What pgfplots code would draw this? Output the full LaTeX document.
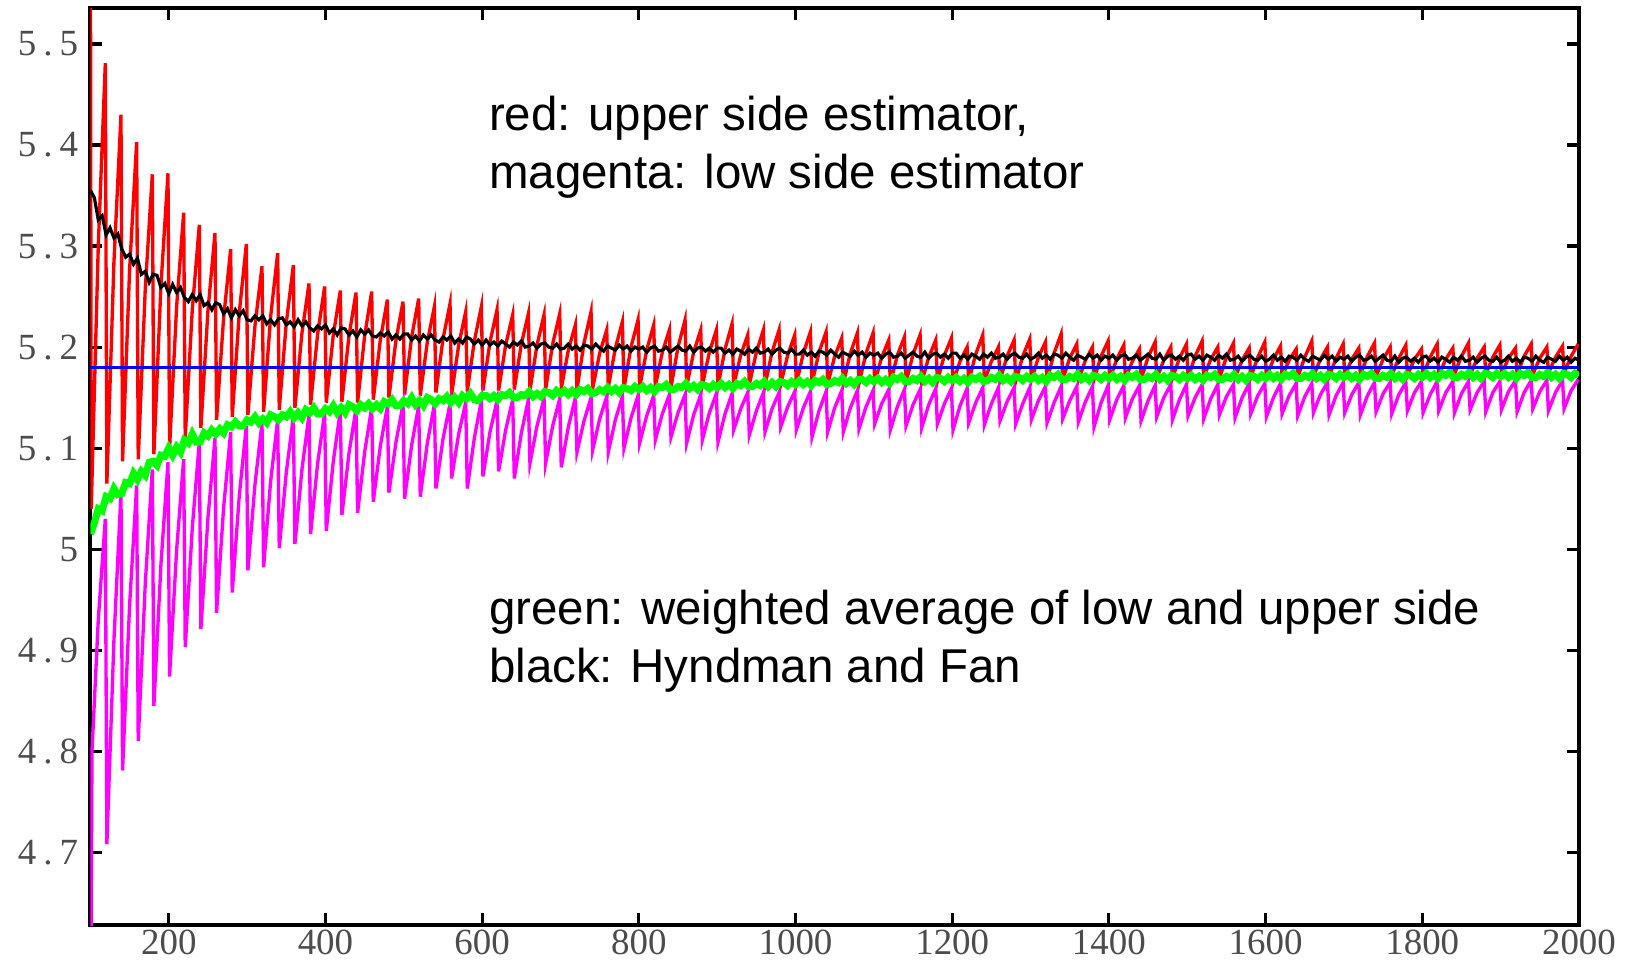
\documentclass[border=0pt]{standalone}
\usepackage{fontspec}
\setmainfont{Liberation Serif}
\newfontfamily\annfont{Liberation Sans}
\usepackage{pgfplots}
\pgfplotsset{compat=1.18}
\definecolor{lime}{RGB}{0,255,0}
\definecolor{mag}{RGB}{255,0,255}
\begin{document}
\begin{tikzpicture}
\begin{axis}[
  scale only axis, width=14.88cm, height=9.17cm,
  xmin=100, xmax=2000, ymin=4.6277, ymax=5.5356,
  xtick={200,400,600,800,1000,1200,1400,1600,1800,2000},
  xticklabels={200,400,600,800,1000,1200,1400,1600,1800,2000},
  ytick={4.7,4.8,4.9,5.0,5.1,5.2,5.3,5.4,5.5},
  yticklabels={4\kern2pt.\kern2pt7,4\kern2pt.\kern2pt8,4\kern2pt.\kern2pt9,5,5\kern2pt.\kern2pt1,5\kern2pt.\kern2pt2,5\kern2pt.\kern2pt3,5\kern2pt.\kern2pt4,5\kern2pt.\kern2pt5},
  tick align=inside, major tick length=0.12cm,
  tick style={black, line width=0.9pt},
  axis line style={line width=1.1pt},
  ticklabel style={font=\fontsize{10.5}{12}\selectfont, text=black!70},
  xticklabel style={inner sep=1pt},
]
% upper side estimator
\addplot[red, line width=0.95pt] coordinates {
(100,5.62) (101,5.04) (110,5.30) (119,5.481)
(121,5.065) (130,5.284) (139,5.430) (141,5.087) (150,5.277) (159,5.403)
(161,5.089) (170,5.258) (179,5.371) (181,5.094) (190,5.261) (199,5.372)
(201,5.100) (210,5.240) (219,5.333) (221,5.111) (230,5.237) (239,5.321)
(241,5.120) (250,5.236) (259,5.313) (261,5.128) (270,5.229) (279,5.297)
(281,5.131) (290,5.234) (299,5.302) (301,5.133) (310,5.221) (319,5.280)
(321,5.136) (330,5.230) (339,5.293) (341,5.138) (350,5.224) (359,5.281)
(361,5.140) (370,5.214) (379,5.263) (381,5.143) (390,5.213) (399,5.260)
(401,5.145) (410,5.212) (419,5.256) (421,5.146) (430,5.211) (439,5.254)
(441,5.145) (450,5.211) (459,5.255) (461,5.148) (470,5.207) (479,5.247)
(481,5.150) (490,5.207) (499,5.245) (501,5.153) (510,5.210) (519,5.248)
(521,5.152) (530,5.205) (539,5.240) (541,5.155) (550,5.208) (559,5.243)
(561,5.153) (570,5.202) (579,5.235) (581,5.156) (590,5.206) (599,5.240)
(601,5.157) (610,5.205) (619,5.237) (621,5.157) (630,5.202) (639,5.232)
(641,5.158) (650,5.203) (659,5.233) (661,5.157) (670,5.202) (679,5.232)
(681,5.158) (690,5.203) (699,5.233) (701,5.159) (710,5.197) (719,5.222)
(721,5.158) (730,5.204) (739,5.235) (741,5.159) (750,5.194) (759,5.217)
(761,5.160) (770,5.199) (779,5.225) (781,5.159) (790,5.200) (799,5.227)
(801,5.160) (810,5.197) (819,5.222) (821,5.161) (830,5.195) (839,5.217)
(841,5.160) (850,5.200) (859,5.227) (861,5.161) (870,5.195) (879,5.217)
(881,5.162) (890,5.195) (899,5.217) (901,5.161) (910,5.198) (919,5.223)
(921,5.162) (930,5.192) (939,5.212) (941,5.163) (950,5.195) (959,5.217)
(961,5.162) (970,5.195) (979,5.217) (981,5.163) (990,5.192) (999,5.212)
(1001,5.163) (1010,5.194) (1019,5.215) (1021,5.164) (1030,5.195) (1039,5.215)
(1041,5.163) (1050,5.191) (1059,5.209) (1061,5.164) (1070,5.194) (1079,5.214)
(1081,5.164) (1090,5.194) (1099,5.214) (1101,5.165) (1110,5.190) (1119,5.207)
(1121,5.164) (1130,5.192) (1139,5.210) (1141,5.165) (1150,5.193) (1159,5.212)
(1161,5.165) (1170,5.190) (1179,5.207) (1181,5.166) (1190,5.192) (1199,5.209)
(1201,5.165) (1210,5.186) (1219,5.200) (1221,5.166) (1230,5.193) (1239,5.212)
(1241,5.166) (1250,5.186) (1259,5.200) (1261,5.167) (1270,5.191) (1279,5.207)
(1281,5.166) (1290,5.191) (1299,5.208) (1301,5.167) (1310,5.190) (1319,5.205)
(1321,5.167) (1330,5.194) (1339,5.213) (1341,5.168) (1350,5.189) (1359,5.203)
(1361,5.167) (1370,5.187) (1379,5.200) (1381,5.168) (1390,5.191) (1399,5.206)
(1401,5.168) (1410,5.188) (1419,5.202) (1421,5.169) (1430,5.186) (1439,5.198)
(1441,5.168) (1450,5.190) (1459,5.205) (1461,5.169) (1470,5.187) (1479,5.200)
(1481,5.169) (1490,5.189) (1499,5.203) (1501,5.169) (1510,5.191) (1519,5.206)
(1521,5.170) (1530,5.188) (1539,5.200) (1541,5.169) (1550,5.190) (1559,5.204)
(1561,5.170) (1570,5.187) (1579,5.199) (1581,5.170) (1590,5.190) (1599,5.205)
(1601,5.170) (1610,5.188) (1619,5.201) (1621,5.171) (1630,5.187) (1639,5.198)
(1641,5.170) (1650,5.190) (1659,5.206) (1661,5.171) (1670,5.188) (1679,5.200)
(1681,5.171) (1690,5.189) (1699,5.203) (1701,5.171) (1710,5.188) (1719,5.199)
(1721,5.172) (1730,5.191) (1739,5.204) (1741,5.171) (1750,5.188) (1759,5.200)
(1761,5.172) (1770,5.189) (1779,5.202) (1781,5.172) (1790,5.188) (1799,5.198)
(1801,5.172) (1810,5.190) (1819,5.203) (1821,5.172) (1830,5.188) (1839,5.199)
(1841,5.173) (1850,5.191) (1859,5.204) (1861,5.172) (1870,5.189) (1879,5.200)
(1881,5.173) (1890,5.190) (1899,5.202) (1901,5.173) (1910,5.189) (1919,5.199)
(1921,5.173) (1930,5.191) (1939,5.203) (1941,5.173) (1950,5.189) (1959,5.200)
(1961,5.174) (1970,5.190) (1979,5.201) (1981,5.174) (1990,5.191) (1999,5.203)
};
% low side estimator
\addplot[mag, line width=0.95pt] coordinates {
(100,4.50) (102,4.80) (110,4.93) (119,5.030)
(121,4.708) (130,4.910) (139,5.056) (141,4.781) (150,4.945) (159,5.063)
(161,4.810) (170,4.966) (179,5.079) (181,4.845) (190,4.985) (199,5.086)
(201,4.874) (210,4.999) (219,5.089) (221,4.903) (230,5.021) (239,5.106)
(241,4.921) (250,5.031) (259,5.110) (261,4.937) (270,5.041) (279,5.116)
(281,4.957) (290,5.053) (299,5.122) (301,4.979) (310,5.064) (319,5.125)
(321,4.982) (330,5.067) (339,5.128) (341,5.001) (350,5.076) (359,5.131)
(361,5.005) (370,5.079) (379,5.133) (381,5.015) (390,5.085) (399,5.135)
(401,5.018) (410,5.087) (419,5.137) (421,5.034) (430,5.095) (439,5.139)
(441,5.036) (450,5.096) (459,5.140) (461,5.047) (470,5.102) (479,5.141)
(481,5.056) (490,5.106) (499,5.143) (501,5.050) (510,5.103) (519,5.142)
(521,5.052) (530,5.105) (539,5.143) (541,5.060) (550,5.109) (559,5.144)
(561,5.070) (570,5.114) (579,5.145) (581,5.060) (590,5.110) (599,5.147)
(601,5.072) (610,5.116) (619,5.147) (621,5.077) (630,5.118) (639,5.148)
(641,5.070) (650,5.115) (659,5.148) (661,5.085) (670,5.122) (679,5.149)
(681,5.085) (690,5.122) (699,5.149) (701,5.081) (710,5.121) (719,5.150)
(721,5.096) (730,5.127) (739,5.150) (741,5.098) (750,5.129) (759,5.151)
(761,5.096) (770,5.128) (779,5.151) (781,5.100) (790,5.130) (799,5.152)
(801,5.105) (810,5.132) (819,5.152) (821,5.108) (830,5.134) (839,5.153)
(841,5.111) (850,5.135) (859,5.153) (861,5.105) (870,5.133) (879,5.153)
(881,5.108) (890,5.135) (899,5.154) (901,5.106) (910,5.134) (919,5.154)
(921,5.118) (930,5.139) (939,5.155) (941,5.113) (950,5.137) (959,5.155)
(961,5.116) (970,5.139) (979,5.155) (981,5.121) (990,5.141) (999,5.156)
(1001,5.118) (1010,5.140) (1019,5.156) (1021,5.111) (1030,5.137) (1039,5.156)
(1041,5.116) (1050,5.140) (1059,5.157) (1061,5.116) (1070,5.140) (1079,5.157)
(1081,5.119) (1090,5.141) (1099,5.157) (1101,5.124) (1110,5.144) (1119,5.158)
(1121,5.118) (1130,5.141) (1139,5.158) (1141,5.122) (1150,5.143) (1159,5.158)
(1161,5.120) (1170,5.143) (1179,5.159) (1181,5.124) (1190,5.144) (1199,5.159)
(1201,5.118) (1210,5.142) (1219,5.159) (1221,5.125) (1230,5.145) (1239,5.160)
(1241,5.123) (1250,5.144) (1259,5.160) (1261,5.127) (1270,5.146) (1279,5.160)
(1281,5.124) (1290,5.144) (1299,5.160) (1301,5.128) (1310,5.147) (1319,5.161)
(1321,5.125) (1330,5.145) (1339,5.161) (1341,5.129) (1350,5.147) (1359,5.161)
(1361,5.126) (1370,5.146) (1379,5.161) (1381,5.121) (1390,5.145) (1399,5.162)
(1401,5.128) (1410,5.148) (1419,5.162) (1421,5.130) (1430,5.149) (1439,5.162)
(1441,5.127) (1450,5.147) (1459,5.162) (1461,5.131) (1470,5.150) (1479,5.163)
(1481,5.128) (1490,5.148) (1499,5.163) (1501,5.132) (1510,5.150) (1519,5.163)
(1521,5.129) (1530,5.149) (1539,5.163) (1541,5.133) (1550,5.151) (1559,5.163)
(1561,5.130) (1570,5.150) (1579,5.164) (1581,5.134) (1590,5.152) (1599,5.164)
(1601,5.131) (1610,5.150) (1619,5.164) (1621,5.134) (1630,5.152) (1639,5.164)
(1641,5.132) (1650,5.151) (1659,5.164) (1661,5.135) (1670,5.153) (1679,5.165)
(1681,5.133) (1690,5.152) (1699,5.165) (1701,5.135) (1710,5.153) (1719,5.165)
(1721,5.133) (1730,5.152) (1739,5.165) (1741,5.136) (1750,5.154) (1759,5.165)
(1761,5.134) (1770,5.153) (1779,5.165) (1781,5.137) (1790,5.155) (1799,5.166)
(1801,5.135) (1810,5.153) (1819,5.166) (1821,5.137) (1830,5.155) (1839,5.166)
(1841,5.135) (1850,5.154) (1859,5.166) (1861,5.138) (1870,5.155) (1879,5.166)
(1881,5.136) (1890,5.155) (1899,5.166) (1901,5.138) (1910,5.156) (1919,5.167)
(1921,5.136) (1930,5.155) (1939,5.167) (1941,5.139) (1950,5.156) (1959,5.167)
(1961,5.137) (1970,5.155) (1979,5.167) (1981,5.139) (1990,5.157) (1999,5.168)
};
% weighted average
\addplot[lime, line width=2pt] coordinates {
(100,5.015) (105,5.026) (110,5.040) (115,5.038) (120,5.052) (125,5.050) (130,5.060) (135,5.054) (140,5.055) (145,5.066)
(150,5.065) (155,5.075) (160,5.069) (165,5.077) (170,5.073) (175,5.086) (180,5.087) (185,5.083) (190,5.093) (195,5.092)
(200,5.100) (205,5.093) (210,5.101) (215,5.096) (220,5.108) (225,5.105) (230,5.114) (235,5.106) (240,5.106) (245,5.115)
(250,5.112) (255,5.118) (260,5.114) (265,5.119) (270,5.115) (275,5.123) (280,5.121) (285,5.126) (290,5.122) (295,5.122)
(300,5.128) (305,5.126) (310,5.131) (315,5.125) (320,5.129) (325,5.125) (330,5.133) (335,5.131) (340,5.128) (345,5.133)
(350,5.131) (355,5.136) (360,5.130) (365,5.135) (370,5.130) (375,5.138) (380,5.135) (385,5.140) (390,5.134) (395,5.134)
(400,5.139) (405,5.136) (410,5.142) (415,5.135) (420,5.140) (425,5.135) (430,5.143) (435,5.141) (440,5.137) (445,5.143)
(450,5.140) (455,5.144) (460,5.139) (465,5.143) (470,5.139) (475,5.146) (480,5.144) (485,5.148) (490,5.142) (495,5.142)
(500,5.147) (505,5.144) (510,5.150) (515,5.143) (520,5.147) (525,5.142) (530,5.150) (535,5.148) (540,5.144) (545,5.149)
(550,5.147) (555,5.151) (560,5.145) (565,5.150) (570,5.145) (575,5.152) (580,5.149) (585,5.154) (590,5.148) (595,5.147)
(600,5.152) (605,5.152) (610,5.149) (615,5.152) (620,5.148) (625,5.153) (630,5.152) (635,5.155) (640,5.150) (645,5.150)
(650,5.153) (655,5.152) (660,5.156) (665,5.151) (670,5.154) (675,5.151) (680,5.156) (685,5.155) (690,5.152) (695,5.157)
(700,5.154) (705,5.157) (710,5.153) (715,5.157) (720,5.153) (725,5.158) (730,5.156) (735,5.159) (740,5.154) (745,5.155)
(750,5.158) (755,5.156) (760,5.160) (765,5.156) (770,5.159) (775,5.155) (780,5.160) (785,5.159) (790,5.157) (795,5.161)
(800,5.158) (805,5.161) (810,5.157) (815,5.160) (820,5.156) (825,5.161) (830,5.160) (835,5.163) (840,5.158) (845,5.158)
(850,5.161) (855,5.160) (860,5.164) (865,5.159) (870,5.162) (875,5.158) (880,5.163) (885,5.162) (890,5.159) (895,5.163)
(900,5.160) (905,5.164) (910,5.160) (915,5.163) (920,5.159) (925,5.164) (930,5.162) (935,5.166) (940,5.161) (945,5.161)
(950,5.164) (955,5.162) (960,5.166) (965,5.161) (970,5.165) (975,5.161) (980,5.166) (985,5.165) (990,5.162) (995,5.166)
(1000,5.163) (1005,5.167) (1010,5.163) (1015,5.166) (1020,5.162) (1025,5.167) (1030,5.165) (1035,5.168) (1040,5.163) (1045,5.164)
(1050,5.167) (1055,5.165) (1060,5.169) (1065,5.164) (1070,5.167) (1075,5.163) (1080,5.168) (1085,5.168) (1090,5.165) (1095,5.169)
(1100,5.166) (1105,5.169) (1110,5.165) (1115,5.168) (1120,5.164) (1125,5.170) (1130,5.168) (1135,5.171) (1140,5.166) (1145,5.166)
(1150,5.169) (1155,5.167) (1160,5.171) (1165,5.166) (1170,5.169) (1175,5.165) (1180,5.170) (1185,5.169) (1190,5.166) (1195,5.170)
(1200,5.167) (1205,5.170) (1210,5.166) (1215,5.169) (1220,5.165) (1225,5.170) (1230,5.168) (1235,5.171) (1240,5.166) (1245,5.167)
(1250,5.170) (1255,5.168) (1260,5.172) (1265,5.167) (1270,5.170) (1275,5.166) (1280,5.171) (1285,5.170) (1290,5.167) (1295,5.171)
(1300,5.168) (1305,5.171) (1310,5.167) (1315,5.170) (1320,5.166) (1325,5.172) (1330,5.170) (1335,5.173) (1340,5.168) (1345,5.168)
(1350,5.171) (1355,5.169) (1360,5.173) (1365,5.168) (1370,5.171) (1375,5.167) (1380,5.172) (1385,5.171) (1390,5.168) (1395,5.172)
(1400,5.169) (1405,5.172) (1410,5.168) (1415,5.171) (1420,5.167) (1425,5.172) (1430,5.170) (1435,5.173) (1440,5.168) (1445,5.168)
(1450,5.171) (1455,5.169) (1460,5.173) (1465,5.168) (1470,5.171) (1475,5.167) (1480,5.172) (1485,5.171) (1490,5.168) (1495,5.172)
(1500,5.169) (1505,5.172) (1510,5.168) (1515,5.171) (1520,5.167) (1525,5.172) (1530,5.170) (1535,5.173) (1540,5.168) (1545,5.168)
(1550,5.171) (1555,5.169) (1560,5.173) (1565,5.168) (1570,5.171) (1575,5.167) (1580,5.172) (1585,5.171) (1590,5.168) (1595,5.172)
(1600,5.169) (1605,5.173) (1610,5.169) (1615,5.172) (1620,5.168) (1625,5.173) (1630,5.171) (1635,5.174) (1640,5.169) (1645,5.169)
(1650,5.172) (1655,5.170) (1660,5.174) (1665,5.169) (1670,5.172) (1675,5.168) (1680,5.173) (1685,5.172) (1690,5.169) (1695,5.173)
(1700,5.170) (1705,5.173) (1710,5.169) (1715,5.172) (1720,5.168) (1725,5.173) (1730,5.171) (1735,5.174) (1740,5.169) (1745,5.169)
(1750,5.172) (1755,5.170) (1760,5.174) (1765,5.169) (1770,5.172) (1775,5.168) (1780,5.173) (1785,5.172) (1790,5.169) (1795,5.173)
(1800,5.170) (1805,5.174) (1810,5.170) (1815,5.173) (1820,5.169) (1825,5.174) (1830,5.172) (1835,5.175) (1840,5.170) (1845,5.170)
(1850,5.173) (1855,5.171) (1860,5.175) (1865,5.170) (1870,5.173) (1875,5.169) (1880,5.174) (1885,5.173) (1890,5.170) (1895,5.174)
(1900,5.171) (1905,5.174) (1910,5.170) (1915,5.173) (1920,5.169) (1925,5.174) (1930,5.172) (1935,5.175) (1940,5.170) (1945,5.170)
(1950,5.173) (1955,5.171) (1960,5.175) (1965,5.170) (1970,5.173) (1975,5.169) (1980,5.174) (1985,5.173) (1990,5.170) (1995,5.174)
(2000,5.172)
};
% Hyndman and Fan
\addplot[black, line width=0.9pt] coordinates {
(100,5.355) (105,5.348) (110,5.326) (115,5.330) (120,5.311) (125,5.318) (130,5.308) (135,5.312) (140,5.297) (145,5.289)
(150,5.292) (155,5.282) (160,5.288) (165,5.272) (170,5.275) (175,5.264) (180,5.272) (185,5.271) (190,5.259) (195,5.263)
(200,5.253) (205,5.262) (210,5.254) (215,5.259) (220,5.249) (225,5.245) (230,5.252) (235,5.246) (240,5.252) (245,5.241)
(250,5.244) (255,5.237) (260,5.244) (265,5.242) (270,5.233) (275,5.238) (280,5.229) (285,5.237) (290,5.231) (295,5.236)
(300,5.227) (305,5.226) (310,5.231) (315,5.227) (320,5.231) (325,5.223) (330,5.227) (335,5.222) (340,5.228) (345,5.229)
(350,5.222) (355,5.225) (360,5.220) (365,5.227) (370,5.221) (375,5.225) (380,5.219) (385,5.216) (390,5.221) (395,5.218)
(400,5.222) (405,5.214) (410,5.218) (415,5.212) (420,5.219) (425,5.218) (430,5.212) (435,5.216) (440,5.210) (445,5.217)
(450,5.213) (455,5.217) (460,5.211) (465,5.210) (470,5.214) (475,5.211) (480,5.215) (485,5.208) (490,5.212) (495,5.208)
(500,5.213) (505,5.213) (510,5.207) (515,5.211) (520,5.206) (525,5.212) (530,5.208) (535,5.212) (540,5.207) (545,5.205)
(550,5.210) (555,5.207) (560,5.211) (565,5.204) (570,5.208) (575,5.204) (580,5.210) (585,5.208) (590,5.203) (595,5.207)
(600,5.202) (605,5.207) (610,5.202) (615,5.205) (620,5.201) (625,5.206) (630,5.203) (635,5.200) (640,5.205) (645,5.202)
(650,5.206) (655,5.200) (660,5.201) (665,5.204) (670,5.199) (675,5.203) (680,5.204) (685,5.200) (690,5.199) (695,5.203)
(700,5.198) (705,5.199) (710,5.203) (715,5.198) (720,5.201) (725,5.197) (730,5.202) (735,5.201) (740,5.198) (745,5.203)
(750,5.199) (755,5.196) (760,5.201) (765,5.199) (770,5.197) (775,5.202) (780,5.198) (785,5.201) (790,5.196) (795,5.200)
(800,5.198) (805,5.200) (810,5.195) (815,5.199) (820,5.201) (825,5.196) (830,5.197) (835,5.200) (840,5.195) (845,5.198)
(850,5.201) (855,5.197) (860,5.196) (865,5.201) (870,5.195) (875,5.199) (880,5.200) (885,5.196) (890,5.199) (895,5.195)
(900,5.199) (905,5.199) (910,5.194) (915,5.197) (920,5.193) (925,5.198) (930,5.196) (935,5.193) (940,5.198) (945,5.195)
(950,5.199) (955,5.194) (960,5.195) (965,5.198) (970,5.193) (975,5.197) (980,5.199) (985,5.195) (990,5.194) (995,5.198)
(1000,5.193) (1005,5.193) (1010,5.197) (1015,5.192) (1020,5.195) (1025,5.191) (1030,5.196) (1035,5.195) (1040,5.192) (1045,5.197)
(1050,5.193) (1055,5.190) (1060,5.195) (1065,5.193) (1070,5.191) (1075,5.196) (1080,5.192) (1085,5.195) (1090,5.190) (1095,5.194)
(1100,5.192) (1105,5.194) (1110,5.189) (1115,5.193) (1120,5.195) (1125,5.190) (1130,5.191) (1135,5.194) (1140,5.189) (1145,5.192)
(1150,5.195) (1155,5.191) (1160,5.190) (1165,5.195) (1170,5.189) (1175,5.193) (1180,5.194) (1185,5.190) (1190,5.193) (1195,5.189)
(1200,5.194) (1205,5.194) (1210,5.189) (1215,5.192) (1220,5.188) (1225,5.193) (1230,5.191) (1235,5.188) (1240,5.193) (1245,5.190)
(1250,5.194) (1255,5.189) (1260,5.190) (1265,5.193) (1270,5.188) (1275,5.192) (1280,5.194) (1285,5.190) (1290,5.189) (1295,5.193)
(1300,5.188) (1305,5.190) (1310,5.194) (1315,5.189) (1320,5.192) (1325,5.188) (1330,5.193) (1335,5.192) (1340,5.189) (1345,5.194)
(1350,5.190) (1355,5.187) (1360,5.192) (1365,5.190) (1370,5.188) (1375,5.193) (1380,5.189) (1385,5.192) (1390,5.187) (1395,5.191)
(1400,5.189) (1405,5.192) (1410,5.187) (1415,5.191) (1420,5.193) (1425,5.188) (1430,5.189) (1435,5.192) (1440,5.187) (1445,5.190)
(1450,5.193) (1455,5.189) (1460,5.188) (1465,5.193) (1470,5.187) (1475,5.191) (1480,5.192) (1485,5.188) (1490,5.191) (1495,5.187)
(1500,5.192) (1505,5.193) (1510,5.188) (1515,5.191) (1520,5.187) (1525,5.192) (1530,5.190) (1535,5.187) (1540,5.192) (1545,5.189)
(1550,5.193) (1555,5.187) (1560,5.188) (1565,5.191) (1570,5.186) (1575,5.190) (1580,5.192) (1585,5.188) (1590,5.187) (1595,5.191)
(1600,5.186) (1605,5.188) (1610,5.192) (1615,5.187) (1620,5.190) (1625,5.186) (1630,5.191) (1635,5.190) (1640,5.187) (1645,5.192)
(1650,5.188) (1655,5.186) (1660,5.191) (1665,5.189) (1670,5.187) (1675,5.192) (1680,5.188) (1685,5.191) (1690,5.186) (1695,5.190)
(1700,5.188) (1705,5.191) (1710,5.186) (1715,5.190) (1720,5.192) (1725,5.187) (1730,5.188) (1735,5.191) (1740,5.186) (1745,5.189)
(1750,5.192) (1755,5.187) (1760,5.186) (1765,5.191) (1770,5.185) (1775,5.189) (1780,5.190) (1785,5.186) (1790,5.189) (1795,5.185)
(1800,5.190) (1805,5.191) (1810,5.186) (1815,5.189) (1820,5.185) (1825,5.190) (1830,5.188) (1835,5.185) (1840,5.190) (1845,5.187)
(1850,5.191) (1855,5.186) (1860,5.187) (1865,5.190) (1870,5.185) (1875,5.189) (1880,5.191) (1885,5.187) (1890,5.186) (1895,5.190)
(1900,5.185) (1905,5.187) (1910,5.191) (1915,5.186) (1920,5.189) (1925,5.185) (1930,5.190) (1935,5.189) (1940,5.186) (1945,5.191)
(1950,5.187) (1955,5.185) (1960,5.190) (1965,5.188) (1970,5.186) (1975,5.191) (1980,5.187) (1985,5.190) (1990,5.185) (1995,5.189)
(2000,5.187)
};
% true value
\addplot[blue, line width=1pt] coordinates {(100,5.18) (2000,5.18)};
\node[anchor=base west, font=\annfont\fontsize{13.5}{16}\selectfont] at (axis cs:593,5.414) {red: upper side estimator,};
\node[anchor=base west, font=\annfont\fontsize{13.5}{16}\selectfont] at (axis cs:593,5.357) {magenta: low side estimator};
\node[anchor=base west, font=\annfont\fontsize{13.5}{16}\selectfont] at (axis cs:593,4.925) {green: weighted average of low and upper side};
\node[anchor=base west, font=\annfont\fontsize{13.5}{16}\selectfont] at (axis cs:593,4.868) {black: Hyndman and Fan};
\coordinate (sw) at (rel axis cs:0,0);
\coordinate (ne) at (rel axis cs:1,1);
\end{axis}
\pgfresetboundingbox
\path ([shift={(-0.904cm,-0.38cm)}]sw) rectangle ([shift={(0.54cm,0.08cm)}]ne);
\end{tikzpicture}
\end{document}
